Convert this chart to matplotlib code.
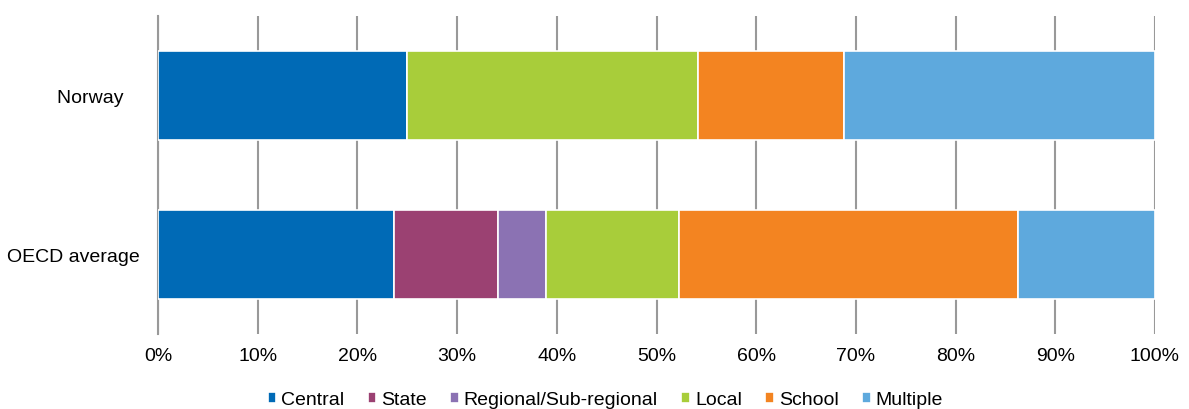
import matplotlib
matplotlib.use("Agg")
import matplotlib.pyplot as plt
import numpy as np

plt.rcParams['font.family'] = ['Liberation Sans', 'DejaVu Sans']

#Data (percent of decisions)
countries = ["OECD average", "Norway   "]
levels = ["Central", "State", "Regional/Sub-regional", "Local", "School", "Multiple"]
central = [23.7, 25.0]
state = [10.4, 0.0]
regional = [4.8, 0.0]
local = [13.4, 29.2]
school = [34.0, 14.6]
multiple = [13.7, 31.2]
colors = ["#006ab6", "#9b4172", "#8b72b3", "#a8cd3a", "#f38421", "#5ea9dd"]

fig = plt.figure(figsize=(11.89, 4.10), dpi=100)
ax = fig.add_axes([0.1329, 0.1829, 0.8385, 0.7755])

y = np.arange(len(countries))
left = np.zeros(len(countries))
for name, vals, col in zip(levels, [central, state, regional, local, school, multiple], colors):
    vals = np.array(vals)
    ax.barh(y, vals, left=left, height=0.555, color=col, edgecolor="white",
            linewidth=1.2, label=name, zorder=3)
    left = left + vals

ax.set_xlim(0, 100)
ax.set_ylim(-0.5, 1.5)
ax.set_xticks(np.arange(0, 101, 10))
ax.set_xticklabels([f"{v}%" for v in range(0, 101, 10)], fontsize=14)
ax.set_yticks(y)
ax.set_yticklabels(countries, fontsize=14)
ax.tick_params(axis="both", length=0)
ax.tick_params(axis="x", pad=9)
ax.tick_params(axis="y", pad=13)

ax.grid(axis="x", color="#999999", linewidth=1.5, zorder=0)
for s in ["top", "right", "bottom"]:
    ax.spines[s].set_visible(False)
ax.spines["left"].set_color("#999999")
ax.spines["left"].set_linewidth(1.5)

fig.legend(loc="center", bbox_to_anchor=(0.509, 0.022), ncol=6, frameon=False,
           fontsize=14, handlelength=0.45, handleheight=0.45, handletextpad=0.25,
           columnspacing=1.2)

fig.savefig("out.png", dpi=100)
